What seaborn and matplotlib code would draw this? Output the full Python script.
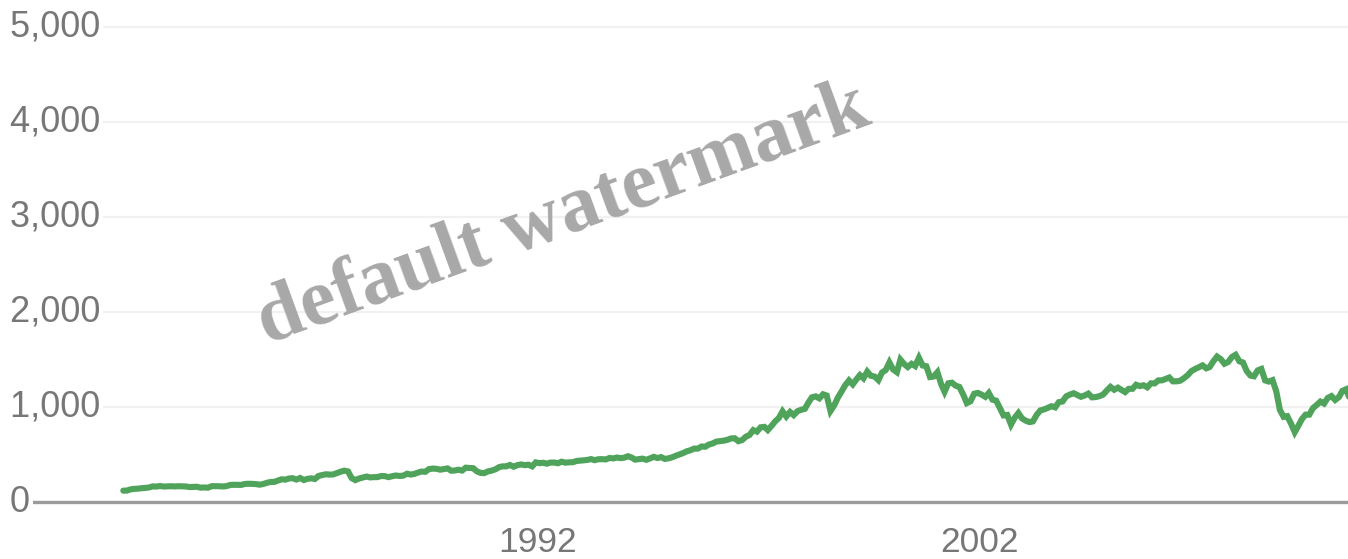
import numpy as np
import pandas as pd
import matplotlib
matplotlib.use("Agg")
import matplotlib.pyplot as plt
import matplotlib.dates as mdates
import matplotlib.transforms as mtransforms
import seaborn as sns

# Monthly closing level of the index, Aug 1982 - May 2010
start_month = "1982-08"
closes = [
    # 1982 (Aug-Dec)
    119.5, 120.4, 133.7, 138.5, 140.6,
    # 1983
    145.3, 148.1, 153.0, 164.4, 162.4, 168.1, 162.6, 164.4, 166.1, 163.6, 166.4, 164.9,
    # 1984
    163.4, 157.1, 159.2, 160.1, 150.6, 153.2, 150.7, 166.7, 166.1, 166.1, 163.6, 167.2,
    # 1985
    179.6, 181.2, 180.7, 179.8, 189.6, 191.9, 190.9, 188.6, 182.1, 189.8, 202.2, 211.3,
    # 1986
    211.8, 226.9, 238.9, 235.5, 247.4, 250.8, 236.1, 252.9, 231.3, 244.0, 249.2, 242.2,
    # 1987
    274.1, 284.2, 291.7, 288.4, 290.1, 304.0, 318.7, 329.8, 321.8, 251.8, 230.3, 247.1,
    # 1988
    257.1, 267.8, 258.9, 261.3, 262.2, 273.5, 272.0, 261.5, 271.9, 279.0, 273.7, 277.7,
    # 1989
    297.5, 288.9, 294.9, 309.6, 320.5, 318.0, 346.1, 351.5, 349.2, 340.4, 346.0, 353.4,
    # 1990
    329.1, 331.9, 339.9, 330.8, 361.2, 358.0, 356.2, 322.6, 306.1, 304.0, 322.2, 330.2,
    # 1991
    343.9, 367.1, 375.2, 375.3, 389.8, 371.2, 387.8, 395.4, 387.9, 392.5, 375.2, 417.1,
    # 1992
    408.8, 412.7, 403.7, 415.0, 415.4, 408.1, 424.2, 414.0, 417.8, 418.7, 431.4, 435.7,
    # 1993
    438.8, 443.4, 451.7, 440.2, 450.2, 451.0, 448.1, 463.6, 458.9, 467.8, 461.8, 466.5,
    # 1994
    481.6, 467.1, 445.8, 450.9, 456.5, 444.3, 458.3, 475.5, 462.7, 472.4, 453.7, 459.3,
    # 1995
    470.4, 487.4, 500.7, 514.7, 533.4, 544.8, 562.1, 561.9, 584.4, 581.5, 605.4, 615.9,
    # 1996
    636.0, 640.4, 645.5, 654.2, 669.1, 670.6, 640.0, 652.0, 687.3, 705.3, 757.0, 740.7,
    # 1997
    786.2, 790.8, 757.1, 801.3, 848.3, 885.1, 954.3, 899.5, 947.3, 914.6, 955.4, 970.4,
    # 1998
    980.3, 1049.3, 1101.8, 1111.8, 1090.8, 1133.8, 1120.7, 957.3, 1017.0, 1098.7, 1163.6, 1229.2,
    # 1999
    1279.6, 1238.3, 1286.4, 1335.2, 1301.8, 1372.7, 1328.7, 1320.4, 1282.7, 1362.9, 1388.9, 1469.3,
    # 2000
    1394.5, 1366.4, 1498.6, 1452.4, 1420.6, 1454.6, 1430.8, 1517.7, 1436.5, 1429.4, 1315.2, 1320.3,
    # 2001
    1366.0, 1239.9, 1160.3, 1249.5, 1255.8, 1224.4, 1211.2, 1133.6, 1040.9, 1059.8, 1139.5, 1148.1,
    # 2002
    1130.2, 1106.7, 1147.4, 1076.9, 1067.1, 989.8, 911.6, 916.1, 815.3, 885.8, 936.3, 879.8,
    # 2003
    855.7, 841.2, 848.2, 916.9, 963.6, 974.5, 990.3, 1008.0, 996.0, 1050.7, 1058.2, 1111.9,
    # 2004
    1131.1, 1144.9, 1126.2, 1107.3, 1120.7, 1140.8, 1101.7, 1104.2, 1114.6, 1130.2, 1173.8, 1211.9,
    # 2005
    1181.3, 1203.6, 1180.6, 1156.9, 1191.5, 1191.3, 1234.2, 1220.3, 1228.8, 1207.0, 1249.5, 1248.3,
    # 2006
    1280.1, 1280.7, 1294.8, 1310.6, 1270.1, 1270.2, 1276.7, 1303.8, 1335.9, 1377.9, 1400.6, 1418.3,
    # 2007
    1438.2, 1406.8, 1420.9, 1482.4, 1530.6, 1503.4, 1455.3, 1474.0, 1526.8, 1549.4, 1481.1, 1468.4,
    # 2008
    1378.6, 1330.6, 1322.7, 1385.6, 1400.4, 1280.0, 1267.4, 1282.8, 1166.4, 968.8, 896.2, 903.3,
    # 2009
    825.9, 735.1, 797.9, 872.8, 919.1, 919.3, 987.5, 1020.6, 1057.1, 1036.2, 1095.6, 1115.1,
    # 2010 (Jan-May)
    1073.9, 1104.5, 1169.4, 1186.7, 1089.4,
]

y_ticks = [0, 1000, 2000, 3000, 4000, 5000]
y_tick_labels = ["0", "1,000", "2,000", "3,000", "4,000", "5,000"]
x_tick_years = [1992, 2002]

dates = pd.date_range(start_month, periods=len(closes), freq="MS") + pd.Timedelta(days=14)
df = pd.DataFrame({"date": dates, "value": closes})

sns.set_theme(style="white")
plt.rcParams["font.family"] = ["Liberation Sans", "DejaVu Sans"]

W, H, DPI = 1348, 559, 100
fig = plt.figure(figsize=(W / DPI, H / DPI), dpi=DPI)
fig.patch.set_facecolor("white")
ax = fig.add_axes([0, (H - 502) / H, 1, 502 / H])
ax.set_facecolor("white")

sns.lineplot(data=df, x="date", y="value", ax=ax, color="#4fa35a",
             linewidth=4.4, solid_joinstyle="miter", zorder=3)

ax.set_xlim(pd.Timestamp("1979-10-31"), pd.Timestamp("2010-05-01"))
ax.set_ylim(0, 5284)

# Light horizontal gridlines
ax.set_yticks(y_ticks)
ax.yaxis.grid(True, color="#f1f1f1", linewidth=1.6, zorder=0)
ax.xaxis.grid(False)
ax.tick_params(axis="y", length=0, labelleft=False)

for s in ["left", "right", "top"]:
    ax.spines[s].set_visible(False)
ax.spines["bottom"].set_color("#9b9b9b")
ax.spines["bottom"].set_linewidth(2.4)
ax.spines["bottom"].set_zorder(2)

# Value labels sit inside the plot; their white box hides the gridline
# from the left edge up to the end of the text
lbl_tr = mtransforms.blended_transform_factory(ax.transAxes, ax.transData)
for v, t in zip(y_ticks, y_tick_labels):
    ax.text(0.0, v, " " + t, transform=lbl_tr, ha="left", va="center",
            fontsize=26, color="#777777", zorder=5,
            bbox=dict(boxstyle="square,pad=0.08", fc="white", ec="none"))

ax.set_xticks([pd.Timestamp(f"{y}-01-01") for y in x_tick_years])
ax.xaxis.set_major_formatter(mdates.DateFormatter("%Y"))
ax.tick_params(axis="x", direction="out", length=14, width=1.8, color="#9b9b9b",
               labelsize=25.5, labelcolor="#777777", pad=3)
ax.set_xlabel("")
ax.set_ylabel("")

fig.text(0.418, 0.615, "default watermark", rotation=20, ha="center", va="center",
         fontsize=58, fontweight="bold", family="Liberation Serif",
         color="#a8a8a8", zorder=10)

fig.savefig("out.png", dpi=DPI, facecolor="white")
